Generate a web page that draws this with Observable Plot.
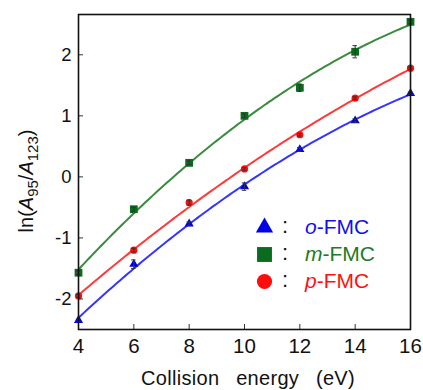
<!DOCTYPE html>
<html><head><meta charset="utf-8">
<script src="https://cdn.jsdelivr.net/npm/d3@7"></script>
<script src="https://cdn.jsdelivr.net/npm/@observablehq/plot@0.6"></script>
<style>body{margin:0;background:#fff;font-family:"Liberation Sans",Arial,sans-serif}</style>
</head><body><div id="chart"></div>
<script>
const energies = [4, 6, 8, 10, 12, 14, 16];
const oFMC = [-2.35, -1.43, -0.77, -0.16, 0.45, 0.92, 1.37];
const mFMC = [-1.57, -0.53, 0.23, 1.00, 1.46, 2.05, 2.54];
const pFMC = [-1.95, -1.20, -0.42, 0.13, 0.69, 1.29, 1.78];
const oErr = [0.02, 0.07, 0.03, 0.06, 0.03, 0.03, 0.02];
const mErr = [0.03, 0.03, 0.03, 0.03, 0.06, 0.10, 0.03];
const pErr = [0.02, 0.03, 0.04, 0.02, 0.02, 0.02, 0.02];
const xTicks = [4, 6, 8, 10, 12, 14, 16];
const yTicks = [-2, -1, 0, 1, 2];

const seriesDefs = [
  {key: "o", vals: oFMC, err: oErr, symbol: "triangle", marker: "#0000e6", line: "#3535ff", text: "#1010ee", prefix: "o", r: 3.4, lr: 6.4},
  {key: "m", vals: mFMC, err: mErr, symbol: "square", marker: "#0b6b1f", line: "#3a8b3e", text: "#1f7a25", prefix: "m", r: 4.4, lr: 8.4},
  {key: "p", vals: pFMC, err: pErr, symbol: "circle", marker: "#ff0d0d", line: "#ff3a3a", text: "#ff1010", prefix: "p", r: 3.6, lr: 7.6}
];

// quadratic least-squares fit
function quadFit(xs, ys) {
  let S = Array(5).fill(0), T = Array(3).fill(0);
  xs.forEach((x, i) => { for (let k = 0; k < 5; k++) S[k] += x ** k; for (let k = 0; k < 3; k++) T[k] += ys[i] * x ** k; });
  const A = [[S[0], S[1], S[2], T[0]], [S[1], S[2], S[3], T[1]], [S[2], S[3], S[4], T[2]]];
  for (let c = 0; c < 3; c++) {
    for (let r = c + 1; r < 3; r++) { const f = A[r][c] / A[c][c]; for (let k = c; k < 4; k++) A[r][k] -= f * A[c][k]; }
  }
  const b = [0, 0, 0];
  for (let r = 2; r >= 0; r--) { let s = A[r][3]; for (let k = r + 1; k < 3; k++) s -= A[r][k] * b[k]; b[r] = s / A[r][r]; }
  return x => b[0] + b[1] * x + b[2] * x * x;
}

const points = [], fits = [];
const grid = d3.range(4, 16.0001, 0.1);
seriesDefs.forEach(s => {
  energies.forEach((e, i) => points.push({s: s.key, x: e, y: s.vals[i], err: s.err[i]}));
  const f = quadFit(energies, s.vals);
  grid.forEach(x => fits.push({s: s.key, x, y: f(x)}));
});

const W = 423, H = 390, ML = 78, MR = 13, MT = 14, MB = 61;
const FW = W - ML - MR, FH = H - MT - MB;

const marks = [];
seriesDefs.forEach(s => {
  marks.push(Plot.line(fits.filter(d => d.s === s.key), {x: "x", y: "y", stroke: s.line, strokeWidth: 2, curve: "linear"}));
});
seriesDefs.forEach(s => {
  marks.push(Plot.dot(points.filter(d => d.s === s.key), {x: "x", y: "y", symbol: s.symbol, fill: s.marker, r: s.r, stroke: "none"}));
});
marks.push(Plot.ruleX(points, {x: "x", y1: d => d.y - d.err, y2: d => d.y + d.err, stroke: "#333", strokeWidth: 1}));
marks.push(Plot.ruleY(points, {y: d => d.y - d.err, x1: d => d.x - 0.08, x2: d => d.x + 0.08, stroke: "#333", strokeWidth: 1}));
marks.push(Plot.ruleY(points, {y: d => d.y + d.err, x1: d => d.x - 0.08, x2: d => d.x + 0.08, stroke: "#333", strokeWidth: 1}));
// inward ticks
marks.push(Plot.tickX(xTicks, {x: d => d, stroke: "#333", strokeWidth: 1, insetTop: FH - 5}));
marks.push(Plot.tickY(yTicks, {y: d => d, stroke: "#333", strokeWidth: 1, insetRight: FW - 5}));
marks.push(Plot.axisX(xTicks, {tickSize: 0, tickPadding: 9, fontSize: 20.5, fill: "#111", tickFormat: d => String(d)}));
marks.push(Plot.axisY(yTicks, {tickSize: 0, tickPadding: 7, fontSize: 18.5, fill: "#111", tickFormat: d => String(d)}));
marks.push(Plot.frame({stroke: "#111", strokeWidth: 1.6}));
// legend symbols
seriesDefs.forEach((s, i) => {
  marks.push(Plot.dot([0], {frameAnchor: "top-left", dx: 186, dy: 213 + i * 27, symbol: s.symbol, fill: s.marker, r: s.lr, stroke: "none"}));
});

const chart = Plot.plot({
  width: W, height: H,
  marginLeft: ML, marginRight: MR, marginTop: MT, marginBottom: MB,
  style: {fontFamily: "'Liberation Sans', Arial, sans-serif", background: "#fff"},
  x: {domain: [4, 16], label: null},
  y: {domain: [-2.5, 2.66], label: null},
  marks
});
document.getElementById("chart").appendChild(chart);

const svg = d3.select(chart);
// legend text
seriesDefs.forEach((s, i) => {
  const y = 234 + i * 27;
  svg.append("text").attr("x", 282).attr("y", y - 1).attr("text-anchor", "start").attr("font-size", 22).attr("fill", "#111").text(":");
  const t = svg.append("text").attr("x", 305).attr("y", y).attr("text-anchor", "start").attr("font-size", 21).attr("fill", s.text);
  t.append("tspan").attr("font-style", "italic").text(s.prefix);
  t.append("tspan").text("-FMC");
});
// x title
svg.append("text").attr("x", ML + FW / 2 + 4).attr("y", 385).attr("text-anchor", "middle")
  .attr("font-size", 20).attr("fill", "#111").style("word-spacing", "11px").style("letter-spacing", "0.3px").text("Collision energy (eV)");
// y title
const yl = svg.append("text").attr("transform", "translate(33,181) rotate(-90)").attr("text-anchor", "middle")
  .attr("font-size", 20).attr("fill", "#111");
yl.append("tspan").text("ln(");
yl.append("tspan").attr("font-style", "italic").text("A");
yl.append("tspan").attr("font-size", 15).attr("dy", 5).text("95");
yl.append("tspan").attr("dy", -5).text("/");
yl.append("tspan").attr("font-style", "italic").text("A");
yl.append("tspan").attr("font-size", 15).attr("dy", 5).text("123");
yl.append("tspan").attr("dy", -5).text(")");
</script></body></html>
